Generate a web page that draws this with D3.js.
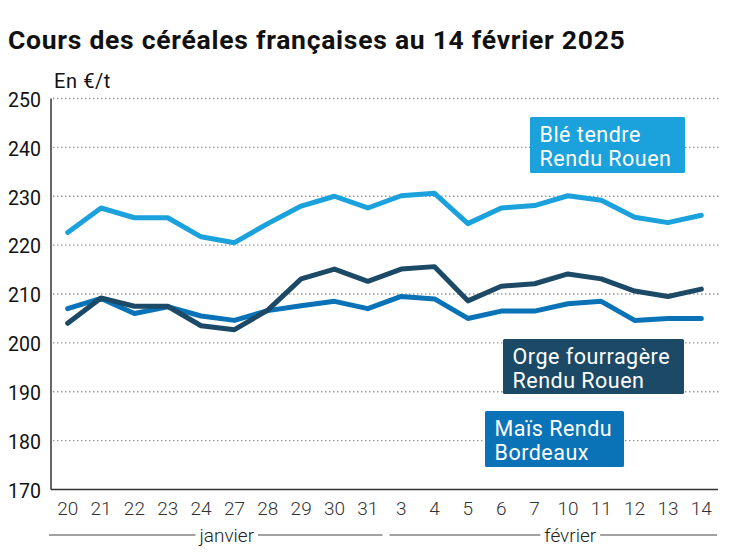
<!DOCTYPE html>
<html><head><meta charset="utf-8">
<script src="https://cdn.jsdelivr.net/npm/d3@7"></script>
<style>
html,body{margin:0;padding:0;background:#fff;}
svg{display:block;font-family:Roboto, "Noto Sans", sans-serif;}
</style></head>
<body><svg id="c" width="747" height="558"></svg>
<script>
const days = ["20","21","22","23","24","27","28","29","30","31","3","4","5","6","7","10","11","12","13","14"];
const ble  = [222.6,227.6,225.6,225.6,221.7,220.5,224.4,228.0,230.0,227.6,230.1,230.6,224.4,227.6,228.1,230.1,229.2,225.7,224.6,226.1];
const orge = [204.0,209.2,207.5,207.5,203.5,202.7,206.7,213.1,215.1,212.6,215.1,215.6,208.6,211.6,212.1,214.1,213.1,210.6,209.5,211.0];
const mais = [207.0,209.1,206.0,207.4,205.5,204.6,206.6,207.6,208.5,207.0,209.5,209.0,205.0,206.5,206.5,208.0,208.5,204.6,205.0,205.0];
const yTicks = [170,180,190,200,210,220,230,240,250];
const months = ["janvier","février"];
const monthStart = [0,10];
const monthEnd = [9,19];
const seriesNames = [["Blé tendre","Rendu Rouen"],["Orge fourragère","Rendu Rouen"],["Maïs Rendu","Bordeaux"]];
const seriesColors = ["#1ba1dc","#1c4966","#0a72b7"];

const svg = d3.select("#c");
const x = d3.scaleBand().domain(days).range([51,718]);
const y = d3.scaleLinear().domain([170,250]).range([489.5,98.5]);

const title = svg.append("text").attr("x",8).attr("y",48.5).attr("font-size",26.5).attr("font-weight",700)
  .attr("fill","#111").text("Cours des céréales françaises au 14 février 2025");
// stretch letter spacing to match the reference width
const tw = title.node().getComputedTextLength();
title.attr("letter-spacing", ((617 - tw) / 47).toFixed(2));
svg.append("text").attr("x",54).attr("y",88).attr("font-size",20).attr("letter-spacing",0.6).attr("fill","#111").text("En €/t");

// grid
svg.append("g").selectAll("line").data(yTicks.filter(d=>d>170)).join("line")
  .attr("x1",53).attr("x2",720).attr("y1",d=>y(d)).attr("y2",d=>y(d))
  .attr("stroke","#999").attr("stroke-width",1.4).attr("stroke-dasharray","1.5,2.5");

// y axis
const ya = svg.append("g").attr("transform","translate(51,0)")
  .call(d3.axisLeft(y).tickValues(yTicks).tickSize(0).tickPadding(10));
ya.select(".domain").attr("stroke","#333").attr("stroke-width",1.5).attr("d","M0,"+y(250)+"V"+y(170));
ya.selectAll("text").attr("font-size",19.5).attr("fill","#111").attr("font-family","Roboto").attr("dy","0.4em");

// x axis
const xa = svg.append("g").attr("transform","translate(0,"+y(170)+")")
  .call(d3.axisBottom(x).tickSize(0).tickPadding(12));
xa.select(".domain").attr("stroke","#333").attr("stroke-width",1.5).attr("d","M51,0H718");
xa.selectAll("text").attr("font-size",19).attr("fill","#333").attr("font-family","Roboto").attr("font-weight",300);

// month brackets
const bw = x.bandwidth();
const mg = svg.append("g");
months.forEach((m,i)=>{
  const x0 = x(days[monthStart[i]]) - (i===0?2:-5);
  const x1 = x(days[monthEnd[i]]) + bw - (i===0?2:1);
  const cx = (x0+x1)/2 + (i===0?11:17);
  const t = mg.append("text").attr("x",cx).attr("y",542).attr("text-anchor","middle")
    .attr("font-size",19).attr("font-weight",300).attr("fill","#222").text(m);
  const w = t.node().getComputedTextLength();
  mg.append("line").attr("x1",x0).attr("x2",cx-w/2-4).attr("y1",535).attr("y2",535).attr("stroke","#444").attr("stroke-width",1.2);
  mg.append("line").attr("x1",cx+w/2+4).attr("x2",x1).attr("y1",535).attr("y2",535).attr("stroke","#444").attr("stroke-width",1.2);
});

// lines
const line = d3.line().x((d,i)=>x(days[i])+bw/2).y(d=>y(d));
[ble,mais,orge].forEach((s)=>{
  const c = s===ble?seriesColors[0]:s===orge?seriesColors[1]:seriesColors[2];
  svg.append("path").attr("d",line(s)).attr("fill","none").attr("stroke",c)
    .attr("stroke-width",5).attr("stroke-linejoin","round").attr("stroke-linecap","round");
});

// label boxes
const boxes = [[530,117,155,56],[503,339,181,55],[485,411,139,56]];
boxes.forEach((b,i)=>{
  const g = svg.append("g");
  g.append("rect").attr("x",b[0]).attr("y",b[1]).attr("width",b[2]).attr("height",b[3]).attr("rx",1.5).attr("fill",seriesColors[i]);
  seriesNames[i].forEach((t,j)=>{
    g.append("text").attr("x",b[0]+9.5).attr("y",b[1]+25+j*23.5).attr("font-size",21.5).attr("letter-spacing",0.5).attr("fill","#fff").text(t);
  });
});
</script></body></html>
